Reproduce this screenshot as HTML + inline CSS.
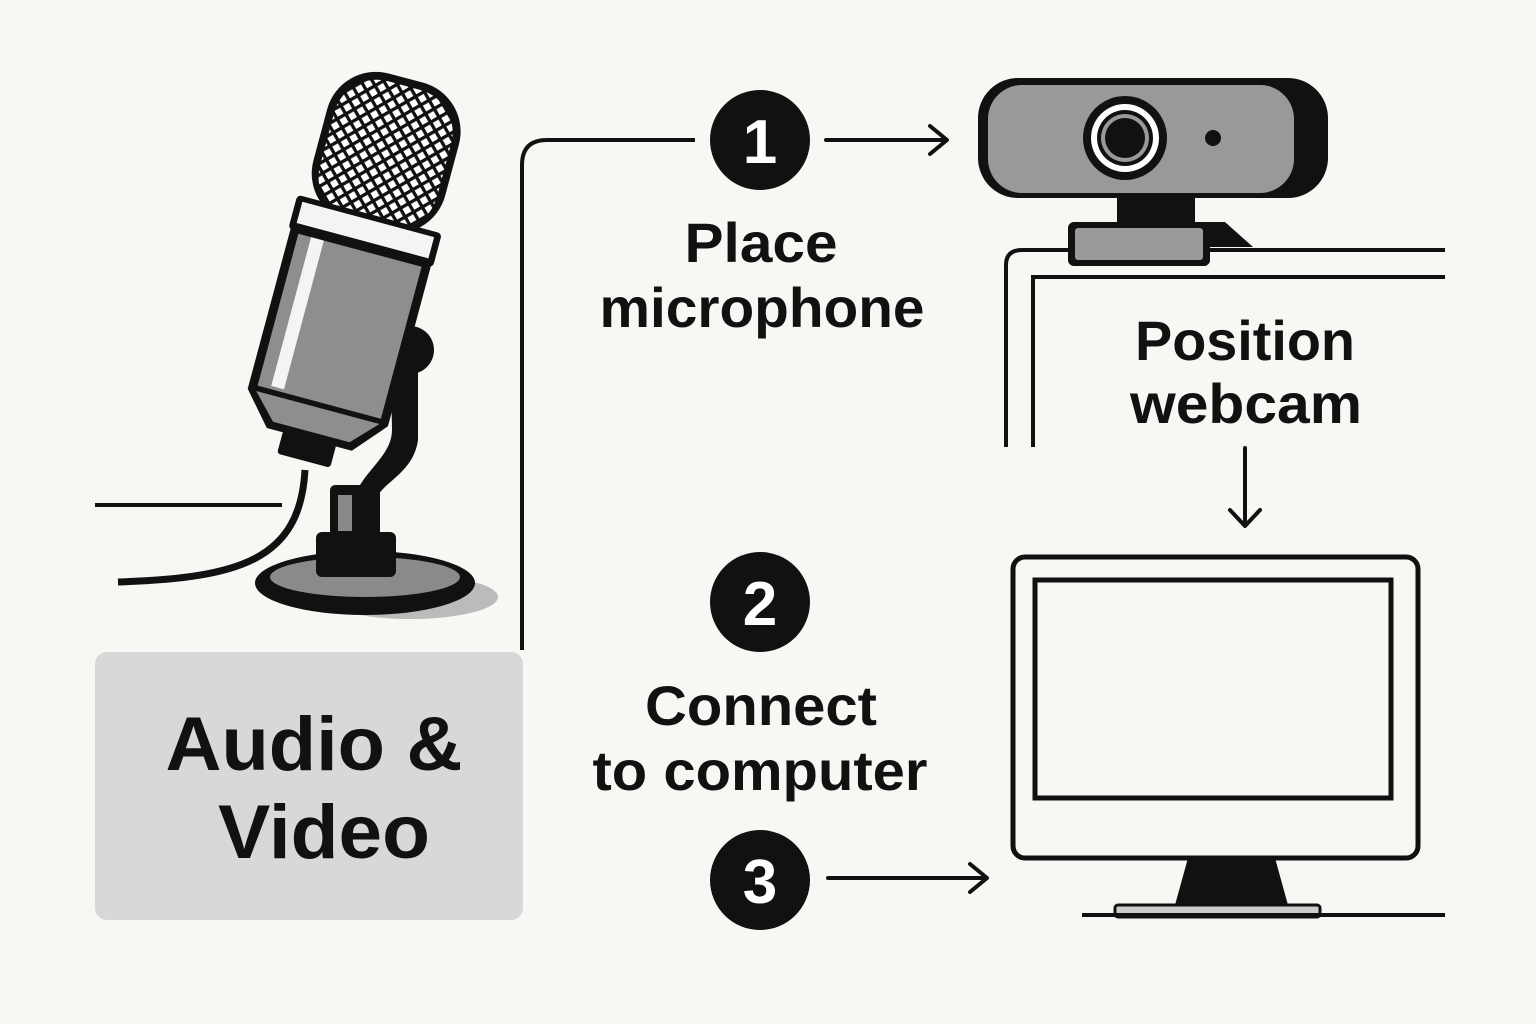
<!DOCTYPE html>
<html><head><meta charset="utf-8"><style>
html,body{margin:0;padding:0;background:#f8f7f4;}
svg{display:block}
text{font-family:"Liberation Sans",sans-serif;font-weight:bold;fill:#111;text-anchor:middle}
</style></head><body>
<svg width="1536" height="1024" viewBox="0 0 1536 1024" xmlns="http://www.w3.org/2000/svg">
<defs>
<pattern id="mesh" width="9" height="9" patternUnits="userSpaceOnUse" patternTransform="rotate(45)">
<rect width="9" height="9" fill="#fff"/>
<rect width="9" height="3" fill="#111"/><rect width="3" height="9" fill="#111"/>
</pattern>
</defs>
<rect width="1536" height="1024" fill="#f8f7f4"/>

<!-- table line & cable -->
<line x1="95" y1="505" x2="282" y2="505" stroke="#111" stroke-width="4"/>
<path d="M305 470 C300 560 240 578 118 582" fill="none" stroke="#111" stroke-width="7"/>

<!-- base -->
<ellipse cx="410" cy="597" rx="88" ry="22" fill="#bbb"/>
<ellipse cx="365" cy="583" rx="110" ry="32" fill="#111"/>
<ellipse cx="365" cy="577" rx="95" ry="20" fill="#8a8a8a"/>
<rect x="316" y="532" width="80" height="45" rx="6" fill="#111"/>
<rect x="330" y="485" width="50" height="52" rx="5" fill="#111"/>
<rect x="338" y="495" width="14" height="36" fill="#888"/>
<!-- yoke arm -->
<path d="M390 330 L418 330 L418 440 C414 470 388 480 378 495 L355 495 C365 470 392 455 392 430 Z" fill="#111"/>
<circle cx="410" cy="350" r="24" fill="#111"/>

<!-- mic -->
<g transform="translate(352,280) rotate(15) scale(1.1)">
<rect x="-62" y="-190" width="124" height="140" rx="46" fill="#111"/>
<rect x="-55" y="-183" width="110" height="130" rx="40" fill="url(#mesh)"/>
<rect x="-68" y="-62" width="136" height="32" rx="4" fill="#111"/>
<rect x="-62" y="-57" width="124" height="20" fill="#f4f4f4"/>
<path d="M-66 -32 L66 -32 L66 120 L40 150 L-40 150 L-66 120 Z" fill="#111"/>
<rect x="-58" y="-28" width="116" height="143" fill="#8e8e8e"/>
<rect x="-46" y="-28" width="12" height="140" fill="#f4f4f4"/>
<path d="M-58 120 L58 120 L36 143 L-36 143 Z" fill="#8e8e8e"/>
<rect x="-25" y="148" width="50" height="22" rx="3" fill="#111"/>
</g>

<!-- label box -->
<rect x="95" y="652" width="428" height="268" rx="12" fill="#d8d8d8"/>
<text x="314" y="770" font-size="76" textLength="297" lengthAdjust="spacingAndGlyphs">Audio &amp;</text>
<text x="324" y="858" font-size="76" textLength="212" lengthAdjust="spacingAndGlyphs">Video</text>

<!-- connector -->
<path d="M522 650 L522 165 Q522 140 547 140 L695 140" fill="none" stroke="#111" stroke-width="4"/>

<!-- step circles -->
<circle cx="760" cy="140" r="50" fill="#111"/>
<text x="760" y="163" font-size="62" style="fill:#fff">1</text>
<circle cx="760" cy="602" r="50" fill="#111"/>
<text x="760" y="625" font-size="62" style="fill:#fff">2</text>
<circle cx="760" cy="880" r="50" fill="#111"/>
<text x="760" y="903" font-size="62" style="fill:#fff">3</text>

<!-- arrows -->
<g stroke="#111" stroke-width="4" fill="none" stroke-linecap="round" stroke-linejoin="round">
<line x1="826" y1="140" x2="946" y2="140"/><path d="M930 126 L947 140 L930 154"/>
<line x1="828" y1="878" x2="986" y2="878"/><path d="M970 864 L987 878 L970 892"/>
<line x1="1245" y1="448" x2="1245" y2="525"/><path d="M1230 510 L1245 526 L1260 510"/>
</g>

<text x="761" y="262" font-size="56" textLength="153" lengthAdjust="spacingAndGlyphs">Place</text>
<text x="762" y="327" font-size="56" textLength="325" lengthAdjust="spacingAndGlyphs">microphone</text>
<text x="1245" y="360" font-size="56" textLength="220" lengthAdjust="spacingAndGlyphs">Position</text>
<text x="1246" y="423" font-size="56" textLength="232" lengthAdjust="spacingAndGlyphs">webcam</text>
<text x="761" y="725" font-size="56" textLength="232" lengthAdjust="spacingAndGlyphs">Connect</text>
<text x="760" y="790" font-size="56" textLength="335" lengthAdjust="spacingAndGlyphs">to computer</text>

<!-- monitor edges -->
<path d="M1006 447 L1006 265 Q1006 250 1022 250 L1072 250 M1210 250 L1445 250" fill="none" stroke="#111" stroke-width="4"/>
<path d="M1033 447 L1033 277 L1445 277" fill="none" stroke="#111" stroke-width="4"/>

<!-- webcam -->
<rect x="978" y="78" width="350" height="120" rx="40" fill="#111"/>
<rect x="988" y="85" width="306" height="108" rx="34" fill="#999"/>
<rect x="1117" y="196" width="78" height="30" fill="#111"/>
<path d="M1190 222 L1225 222 L1253 247 L1200 247 Z" fill="#111"/>
<rect x="1068" y="222" width="142" height="44" rx="6" fill="#111"/>
<rect x="1075" y="228" width="128" height="32" rx="3" fill="#999"/>
<circle cx="1125" cy="138" r="42" fill="#111"/>
<circle cx="1125" cy="138" r="34" fill="#fff"/>
<circle cx="1125" cy="138" r="28" fill="#111"/>
<circle cx="1125" cy="138" r="24" fill="#999"/>
<circle cx="1125" cy="138" r="20" fill="#111"/>
<circle cx="1213" cy="138" r="8" fill="#111"/>

<!-- monitor -->
<rect x="1013" y="557" width="405" height="301" rx="12" fill="none" stroke="#111" stroke-width="5"/>
<rect x="1035" y="580" width="356" height="218" fill="none" stroke="#111" stroke-width="5"/>
<path d="M1188 858 L1275 858 L1288 905 L1175 905 Z" fill="#111"/>
<rect x="1115" y="905" width="205" height="12" rx="3" fill="#ccc" stroke="#111" stroke-width="3"/>
<line x1="1082" y1="915" x2="1445" y2="915" stroke="#111" stroke-width="4"/>
</svg>
</body></html>
